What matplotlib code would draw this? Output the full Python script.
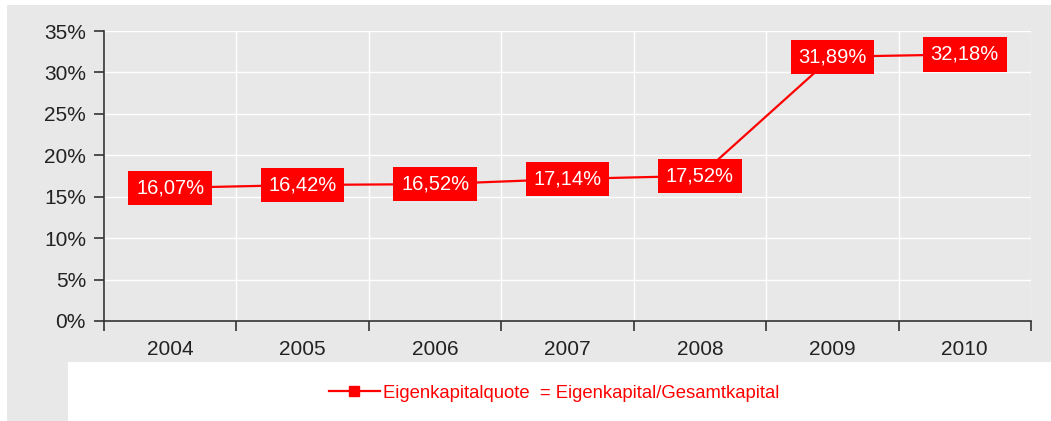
import matplotlib
matplotlib.use("Agg")
import matplotlib.pyplot as plt
from matplotlib.patches import Rectangle
from matplotlib.ticker import FuncFormatter, MultipleLocator

plt.rcParams['font.family'] = ['Liberation Sans', 'DejaVu Sans']

years = ["2004", "2005", "2006", "2007", "2008", "2009", "2010"]
quote = [16.07, 16.42, 16.52, 17.14, 17.52, 31.89, 32.18]
series_label = "Eigenkapitalquote  = Eigenkapital/Gesamtkapital"

W, H = 1051, 421
fig = plt.figure(figsize=(W / 100, H / 100), dpi=100, facecolor="white")

bg = "#E8E8E8"
red = "#FF0000"
# panel background (upper block plus left strip beside the legend)
fig.patches.append(Rectangle((7 / W, 1 - 362 / H), 1 - 7 / W, (362 - 5) / H,
                             transform=fig.transFigure, facecolor=bg, edgecolor="none", zorder=-5))
fig.patches.append(Rectangle((7 / W, 0), (68 - 7) / W, 1 - 362 / H + 0.001,
                             transform=fig.transFigure, facecolor=bg, edgecolor="none", zorder=-5))

ax = fig.add_axes([104 / W, 1 - 321 / H, (1031 - 104) / W, (321 - 31) / H])
ax.set_facecolor(bg)

x = list(range(len(years)))
line, = ax.plot(x, quote, color=red, lw=1.6, marker="s", markersize=7, zorder=3,
                label=series_label)

for xi, v in zip(x, quote):
    ax.text(xi, v, f"{v:.2f}".replace(".", ",") + "%", ha="center", va="center",
            color="white", fontsize=14.5, zorder=5,
            bbox=dict(boxstyle="square,pad=0.38", facecolor=red, edgecolor="none"))

ax.set_xlim(-0.5, len(years) - 0.5)
ax.set_ylim(0, 35)
ax.yaxis.set_major_locator(MultipleLocator(5))
ax.yaxis.set_major_formatter(FuncFormatter(lambda v, p: f"{v:.0f}%"))

# category boundaries for ticks and vertical grid
bounds = [i - 0.5 for i in range(len(years) + 1)]
ax.set_xticks(bounds)
ax.set_xticklabels([])
ax.set_xticks(x, minor=True)
ax.set_xticklabels(years, minor=True)
ax.tick_params(axis="x", which="minor", length=0, pad=14, labelsize=15, labelcolor="#222222")
ax.tick_params(axis="x", which="major", length=7, width=1.2, color="#333333", direction="out")
ax.tick_params(axis="y", length=7, width=1.2, color="#333333", labelsize=15,
               labelcolor="#222222", pad=6)

ax.grid(True, which="major", color="white", lw=1.0)
ax.set_axisbelow(True)
for s in ("top", "right"):
    ax.spines[s].set_visible(False)
for s in ("left", "bottom"):
    ax.spines[s].set_color("#333333")
    ax.spines[s].set_linewidth(1.2)

leg = fig.legend(handles=[line], loc="center", bbox_to_anchor=(554 / W, 1 - 393 / H),
                 frameon=False, fontsize=13.3, handlelength=2.8, handletextpad=0.15)
for t in leg.get_texts():
    t.set_color(red)

fig.savefig("out.png", dpi=100, facecolor="white")
